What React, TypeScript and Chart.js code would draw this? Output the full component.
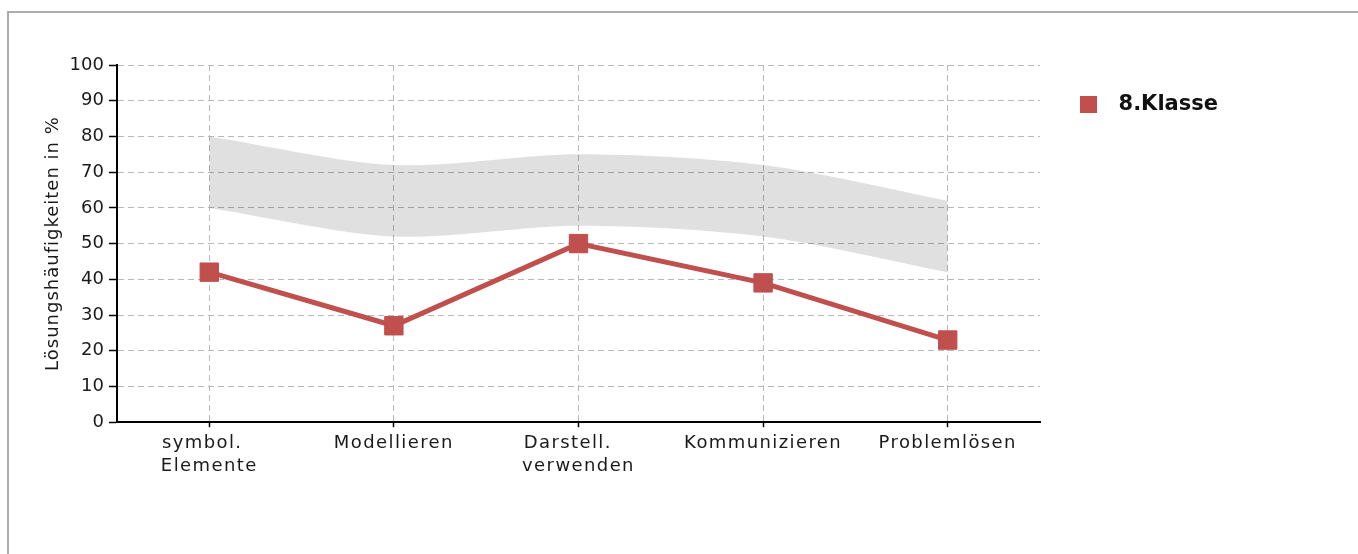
import React, { useEffect, useRef } from 'react';
import { Chart, registerables } from 'chart.js';

Chart.register(...registerables);

const categories: (string | string[])[] = [
  ['symbol.  ', 'Elemente'],
  'Modellieren',
  ['Darstell.   ', 'verwenden'],
  'Kommunizieren',
  'Problemlösen',
];
const seriesLabel = '8.Klasse';
const klasse8 = [42, 27, 50, 39, 23];
const bandUpper = [80, 72, 75, 72, 62];
const bandLower = [60, 52, 55, 52, 42];
const yMin = 0;
const yMax = 100;
const yStep = 10;
const yTitle = 'Lösungshäufigkeiten in %';

const RED = '#c0504d';
const FONT = "'DejaVu Sans', sans-serif";

function wrapSpacing(obj: any, method: string, spacing: string) {
  if (!obj || obj['__wrapped_' + method]) return;
  const orig = obj[method];
  obj[method] = function (...args: any[]) {
    const c = this.ctx;
    c.save();
    c.letterSpacing = spacing;
    const r = orig.apply(this, args);
    c.restore();
    return r;
  };
  obj['__wrapped_' + method] = true;
}

const spacingPlugin = {
  id: 'letterSpacingPlugin',
  afterLayout(chart: any) {
    wrapSpacing(chart.scales.x, 'drawLabels', '1.4px');
    wrapSpacing(chart.scales.y, 'drawTitle', '1px');
  },
};

export default function App() {
  const ref = useRef<HTMLCanvasElement | null>(null);

  useEffect(() => {
    if (!ref.current) return;
    const marker = document.createElement('canvas');
    marker.width = 17;
    marker.height = 17;
    const mctx = marker.getContext('2d');
    if (mctx) {
      mctx.fillStyle = RED;
      mctx.fillRect(0, 0, 17, 17);
    }

    const chart = new Chart(ref.current, {
      type: 'line',
      data: {
        labels: categories as any,
        datasets: [
          {
            label: seriesLabel,
            data: klasse8,
            borderColor: RED,
            backgroundColor: RED,
            borderWidth: 5,
            pointStyle: 'rect',
            pointRadius: 13,
            pointBorderWidth: 1,
            pointBackgroundColor: RED,
            pointBorderColor: RED,
            tension: 0,
            fill: false,
            order: 0,
          },
          {
            label: 'upper',
            data: bandUpper,
            borderWidth: 0,
            borderColor: 'rgba(0,0,0,0)',
            backgroundColor: 'rgba(0,0,0,0.12)',
            pointRadius: 0,
            tension: 0.3,
            fill: '+1',
            order: 1,
          },
          {
            label: 'lower',
            data: bandLower,
            borderWidth: 0,
            borderColor: 'rgba(0,0,0,0)',
            backgroundColor: 'rgba(0,0,0,0)',
            pointRadius: 0,
            tension: 0.3,
            fill: false,
            order: 1,
          },
        ],
      },
      options: {
        responsive: false,
        animation: false,
        devicePixelRatio: 1,
        layout: { padding: { left: 29, top: 65, right: 130, bottom: 72 } },
        plugins: {
          tooltip: { enabled: false },
          legend: {
            position: 'right',
            align: 'start',
            labels: {
              usePointStyle: true,
              pointStyleWidth: 39,
              boxHeight: 17,
              padding: 29,
              color: '#111',
              font: { family: FONT, size: 21, weight: 'bold' },
              generateLabels: () => [
                {
                  text: seriesLabel,
                  fillStyle: RED,
                  strokeStyle: RED,
                  lineWidth: 0,
                  pointStyle: marker,
                  hidden: false,
                  datasetIndex: 0,
                  fontColor: '#111',
                } as any,
              ],
            },
          },
        },
        scales: {
          x: {
            offset: true,
            grid: {
              color: '#b8b8b8',
              lineWidth: 1,
              offset: false,
              drawTicks: true,
              tickLength: 5,
              tickColor: '#000',
              tickWidth: 1.5,
              tickBorderDash: [],
            },
            border: { display: true, color: '#000', width: 2, dash: [6, 4] },
            ticks: {
              color: '#1a1a1a',
              padding: 4,
              maxRotation: 0,
              autoSkip: false,
              font: { family: FONT, size: 18, lineHeight: 1.3 },
            },
          },
          y: {
            min: yMin,
            max: yMax,
            grid: {
              color: '#b8b8b8',
              lineWidth: 1,
              drawTicks: true,
              tickLength: 8,
              tickColor: '#000',
              tickWidth: 1.5,
              tickBorderDash: [],
            },
            border: { display: true, color: '#000', width: 2, dash: [6, 4] },
            ticks: {
              stepSize: yStep,
              color: '#1a1a1a',
              padding: 5,
              font: { family: FONT, size: 18 },
            },
            title: {
              display: true,
              text: yTitle,
              color: '#1a1a1a',
              padding: { top: 14, bottom: 0 },
              font: { family: FONT, size: 18 },
            },
          },
        },
      },
      plugins: [spacingPlugin],
    } as any);

    return () => chart.destroy();
  }, []);

  return (
    <div
      style={{
        position: 'fixed',
        left: 0,
        top: 0,
        width: 1358,
        height: 554,
        overflow: 'hidden',
        background: '#fff',
      }}
    >
      <div
        style={{
          position: 'absolute',
          left: 7,
          top: 11,
          width: 1400,
          height: 600,
          borderLeft: '2px solid #acacac',
          borderTop: '2px solid #acacac',
        }}
      />
      <canvas
        ref={ref}
        width={1358}
        height={554}
        style={{ position: 'absolute', left: 0, top: 0 }}
      />
    </div>
  );
}
